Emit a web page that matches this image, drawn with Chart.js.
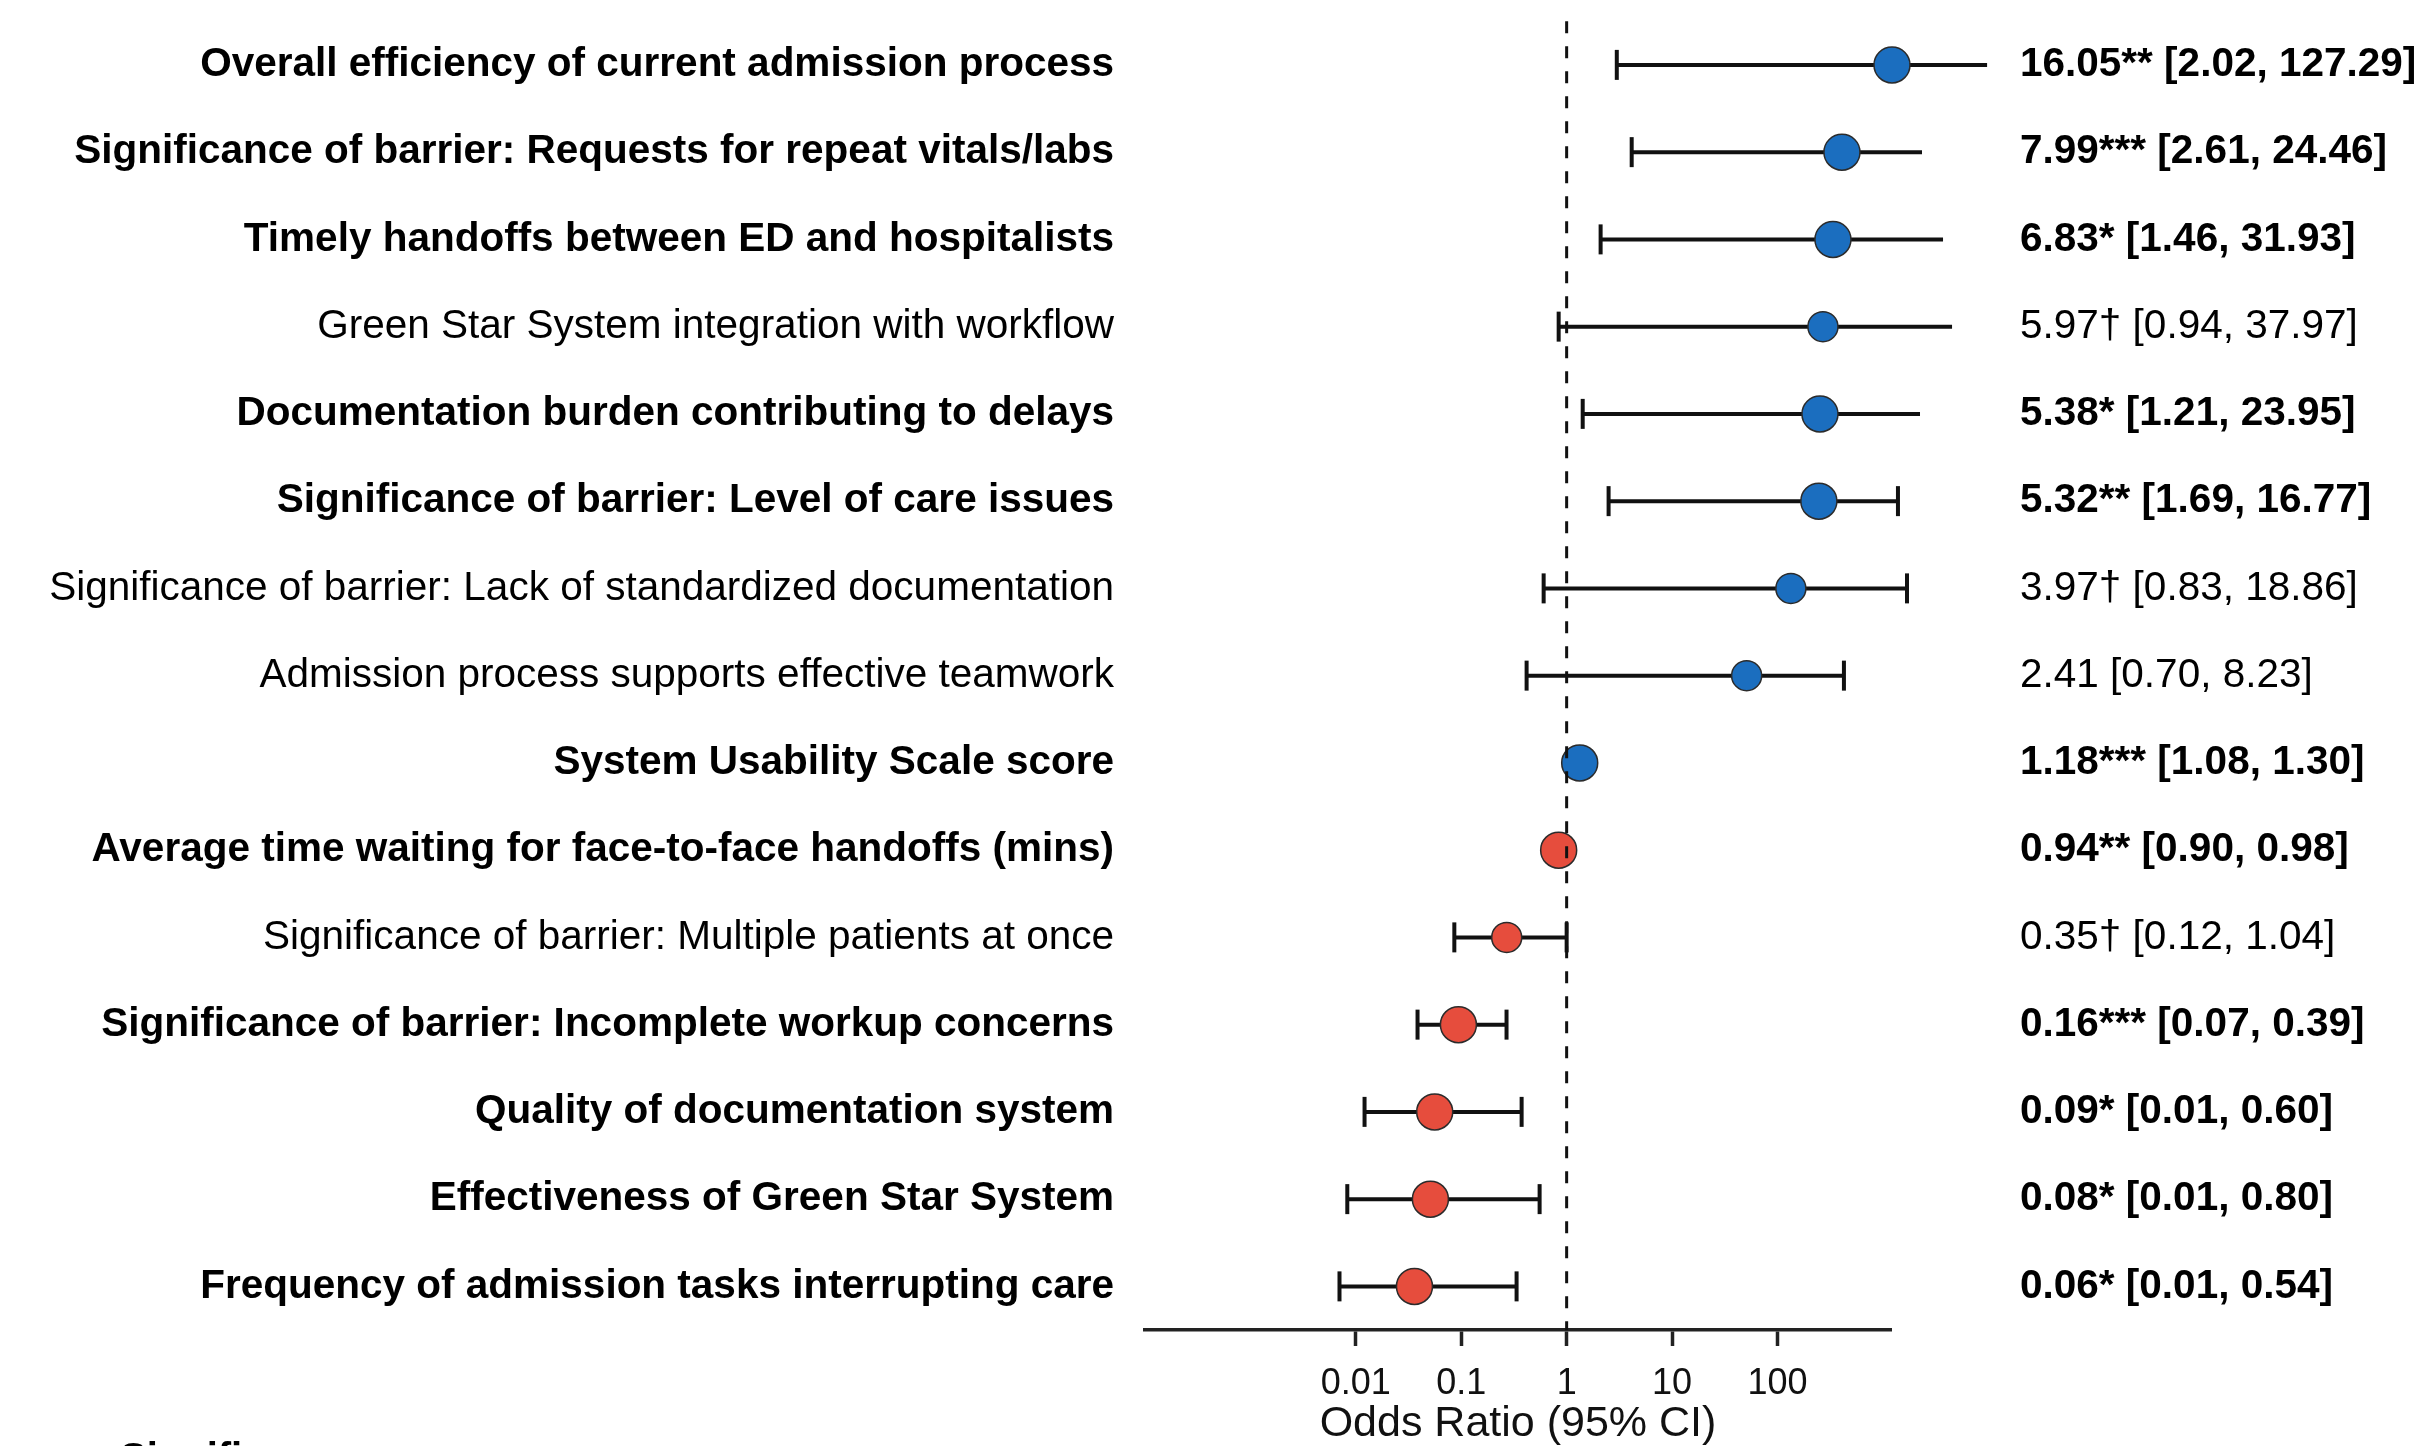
<!DOCTYPE html>
<html>
<head>
<meta charset="utf-8">
<script src="https://cdn.jsdelivr.net/npm/chart.js@4.4.1/dist/chart.umd.min.js"></script>
<style>
  html, body { margin: 0; padding: 0; background: #fff; }
  #wrap { width: 2419px; height: 1446px; position: relative; }
</style>
</head>
<body>
<div id="wrap"><canvas id="forest"></canvas></div>
<script>
// Row labels, top to bottom
const labels = [
    'Overall efficiency of current admission process',
    'Significance of barrier: Requests for repeat vitals/labs',
    'Timely handoffs between ED and hospitalists',
    'Green Star System integration with workflow',
    'Documentation burden contributing to delays',
    'Significance of barrier: Level of care issues',
    'Significance of barrier: Lack of standardized documentation',
    'Admission process supports effective teamwork',
    'System Usability Scale score',
    'Average time waiting for face-to-face handoffs (mins)',
    'Significance of barrier: Multiple patients at once',
    'Significance of barrier: Incomplete workup concerns',
    'Quality of documentation system',
    'Effectiveness of Green Star System',
    'Frequency of admission tasks interrupting care'
];
const orText = [
    '16.05** [2.02, 127.29]',
    '7.99*** [2.61, 24.46]',
    '6.83* [1.46, 31.93]',
    '5.97\u2020 [0.94, 37.97]',
    '5.38* [1.21, 23.95]',
    '5.32** [1.69, 16.77]',
    '3.97\u2020 [0.83, 18.86]',
    '2.41 [0.70, 8.23]',
    '1.18*** [1.08, 1.30]',
    '0.94** [0.90, 0.98]',
    '0.35\u2020 [0.12, 1.04]',
    '0.16*** [0.07, 0.39]',
    '0.09* [0.01, 0.60]',
    '0.08* [0.01, 0.80]',
    '0.06* [0.01, 0.54]'
];
const isBold = [true, true, true, false, true, true, false, false, true, true, false, true, true, true, true];
const isPositive = [true, true, true, true, true, true, true, true, true, false, false, false, false, false, false];

// where the marks sit on the drawn log axis
const pointPos = [1220, 409, 336, 270, 253, 247, 134, 51, 1.33, 0.84, 0.27, 0.094, 0.056, 0.051, 0.036];
const ciLow = [2.99, 4.14, 2.10, 0.84, 1.42, 2.5, 0.605, 0.417, 1.19, 0.77, 0.086, 0.0385, 0.0121, 0.0083, 0.007];
const ciHigh = [9740, 2350, 3720, 4530, 2250, 1390, 1694, 427, 1.48, 0.92, 1.0, 0.269, 0.374, 0.554, 0.335];

const xTicks = [0.01, 0.1, 1, 10, 100];
const X_MIN = 1e-4;
const X_MAX = 1194;

const FONT = "'Liberation Sans', Arial, Helvetica, sans-serif";
const BLUE = '#1b6ebf';
const RED = '#e64d3d';

const rowIdx = labels.map((_, i) => i);

const whiskerSets = rowIdx.map(i => ({
    type: 'line',
    data: [{ x: ciLow[i], y: i }, { x: ciHigh[i], y: i }],
    borderColor: '#111',
    borderWidth: 4,
    pointStyle: 'line',
    pointRotation: 90,
    pointRadius: 15,
    pointBorderWidth: 4,
    pointBorderColor: '#111',
    clip: false,
    order: 2
}));

const pointSet = {
    type: 'scatter',
    data: rowIdx.map(i => ({ x: pointPos[i], y: i })),
    pointRadius: rowIdx.map(i => isBold[i] ? 18 : 15),
    pointBackgroundColor: rowIdx.map(i => isPositive[i] ? BLUE : RED),
    pointBorderColor: '#2b2b2b',
    pointBorderWidth: 1.5,
    clip: false,
    order: 1
};

const refLine = {
    type: 'line',
    data: [{ x: 1, y: -0.5 }, { x: 1, y: 14.5 }],
    borderColor: '#111',
    borderWidth: 3,
    borderDash: [12, 13],
    pointRadius: 0,
    clip: false,
    order: 0
};

const rowTicks = scale => { scale.ticks = rowIdx.map(v => ({ value: v })); };
const rowFont = ctx => ({ family: FONT, size: 40.5, lineHeight: 1.05, weight: isBold[ctx.index] ? 'bold' : 'normal' });

// cut-off footnote at the very bottom
const footnote = {
    id: 'footnote',
    afterDraw(chart) {
        const ctx = chart.ctx;
        ctx.save();
        ctx.font = `bold 40px ${FONT}`;
        ctx.fillStyle = '#000';
        ctx.textBaseline = 'top';
        ctx.fillText('Significance:', 120, 1440);
        ctx.restore();
    }
};

new Chart(document.getElementById('forest'), {
    type: 'scatter',
    data: { datasets: [refLine, pointSet, ...whiskerSets] },
    options: {
        responsive: true,
        maintainAspectRatio: false,
        animation: false,
        layout: { padding: 0 },
        plugins: { legend: { display: false }, tooltip: { enabled: false } },
        scales: {
            x: {
                type: 'logarithmic',
                min: X_MIN,
                max: X_MAX,
                afterBuildTicks: scale => { scale.ticks = xTicks.map(v => ({ value: v })); },
                afterFit: scale => { scale.height = 116; },
                border: { display: true, color: '#222', width: 3.5 },
                grid: { drawOnChartArea: false, drawTicks: true, tickLength: 16, tickWidth: 3.5, tickColor: '#222' },
                ticks: {
                    color: '#111',
                    font: { family: FONT, size: 36 },
                    padding: 16,
                    maxRotation: 0,
                    callback: v => String(v)
                },
                title: {
                    display: true,
                    text: 'Odds Ratio (95% CI)',
                    color: '#111',
                    font: { family: FONT, size: 43, lineHeight: 1.0 },
                    padding: { top: 0, bottom: 0 }
                }
            },
            y: {
                type: 'linear',
                position: 'left',
                reverse: true,
                min: -0.5,
                max: 14.5,
                afterBuildTicks: rowTicks,
                afterFit: scale => { scale.width = 1145; },
                border: { display: false },
                grid: { display: true, drawOnChartArea: false, drawTicks: true, tickLength: 31, tickColor: 'rgba(0,0,0,0)' },
                ticks: {
                    color: '#000',
                    padding: 0,
                    autoSkip: false,
                    font: rowFont,
                    callback: v => labels[v]
                }
            },
            y2: {
                type: 'linear',
                position: 'right',
                display: true,
                reverse: true,
                min: -0.5,
                max: 14.5,
                afterBuildTicks: rowTicks,
                afterFit: scale => { scale.width = 528; },
                border: { display: false },
                grid: { display: true, drawOnChartArea: false, drawTicks: true, tickLength: 129, tickColor: 'rgba(0,0,0,0)' },
                ticks: {
                    color: '#000',
                    padding: 0,
                    autoSkip: false,
                    font: rowFont,
                    callback: v => orText[v]
                }
            }
        }
    },
    plugins: [footnote]
});
</script>
</body>
</html>
